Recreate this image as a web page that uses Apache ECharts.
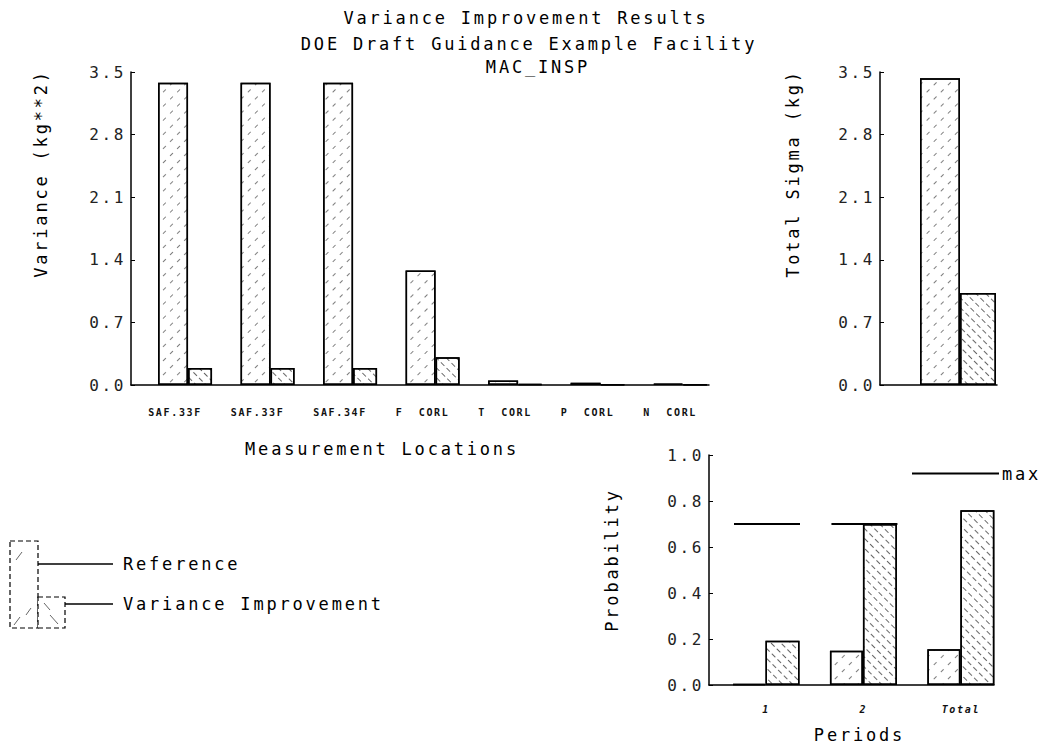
<!DOCTYPE html>
<html>
<head>
<meta charset="utf-8">
<script src="https://cdn.jsdelivr.net/npm/echarts@6/dist/echarts.min.js"></script>
<style>
  html, body { margin: 0; padding: 0; background: #fff; }
  #chart { width: 1041px; height: 745px; }
  #chart text { letter-spacing: 0.165em; white-space: pre; }
</style>
</head>
<body>
<div id="chart"></div>
<script>
// ---------- data ----------
const titleLines = ['Variance Improvement Results', 'DOE Draft Guidance Example Facility', 'MAC_INSP'];

const locations = ['SAF.33F', 'SAF.33F', 'SAF.34F', 'F  CORL', 'T  CORL', 'P  CORL', 'N  CORL'];
const locReference = [3.38, 3.38, 3.38, 1.28, 0.05, 0.025, 0.015];
const locImprovement = [0.19, 0.19, 0.19, 0.31, 0.01, 0.005, 0.005];
const varianceTicks = [0, 0.7, 1.4, 2.1, 2.8, 3.5];

const sigmaReference = [3.43];
const sigmaImprovement = [1.03];

const periods = ['1', '2', 'Total'];
const probReference = [0.005, 0.149, 0.155];
const probImprovement = [0.192, 0.70, 0.76];
const probMax = [0.70, 0.70, null];
const probTicks = [0, 0.2, 0.4, 0.6, 0.8, 1.0];

const seriesNames = ['Reference', 'Variance Improvement'];

// ---------- styles ----------
const FONT = "'DejaVu Sans Mono', 'Liberation Mono', monospace";
const axisLineStyle = { color: '#000', width: 1.5 };
const refDecal = {
  symbol: 'rect', symbolSize: 1, color: 'rgba(0,0,0,0.5)',
  dashArrayX: [[4, 6]], dashArrayY: [1, 9], rotation: -Math.PI / 4
};
const impDecal = {
  symbol: 'rect', symbolSize: 1, color: 'rgba(0,0,0,0.6)',
  dashArrayX: [[5, 3]], dashArrayY: [1, 6], rotation: Math.PI / 4
};
function barStyle(decal) {
  return { color: '#fff', borderColor: '#000', borderWidth: 1.5, decal: decal };
}
const tickLabel = { fontFamily: FONT, fontSize: 16, color: '#222', margin: 5 };
const nameStyle = { fontFamily: FONT, fontSize: 17, color: '#000' };
const titleStyle = { fontFamily: FONT, fontSize: 17, fontWeight: 'normal', color: '#000' };

function yAxisDef(gridIndex, min, max, interval, name, nameGap, padShift) {
  return {
    type: 'value', gridIndex, min, max, interval,
    name, nameLocation: 'middle', nameGap, nameRotate: 90,
    nameTextStyle: Object.assign({ padding: [0, 0, 0, padShift] }, nameStyle),
    axisLine: { show: true, onZero: false, lineStyle: axisLineStyle },
    axisTick: { show: true, inside: true, length: 4, lineStyle: { color: '#000' } },
    splitLine: { show: false },
    axisLabel: Object.assign({ formatter: v => v.toFixed(1) }, tickLabel)
  };
}

const chart = echarts.init(document.getElementById('chart'), null, { renderer: 'svg' });

const option = {
  backgroundColor: '#fff',
  animation: false,
  title: [
    { text: titleLines[0], left: 526, top: 9, textAlign: 'center', padding: 0, textStyle: titleStyle },
    { text: titleLines[1], left: 529, top: 35, textAlign: 'center', padding: 0, textStyle: titleStyle },
    { text: titleLines[2], left: 538, top: 58, textAlign: 'center', padding: 0, textStyle: titleStyle }
  ],
  legend: {
    data: [{ name: 'max', icon: 'rect' }],
    left: 912, top: 465, padding: 0, itemWidth: 87, itemHeight: 2, itemGap: 4,
    selectedMode: false,
    textStyle: { fontFamily: FONT, fontSize: 17, color: '#000', padding: [0, 0, 0, -2] }
  },
  grid: [
    { left: 131, top: 72, width: 578, height: 313 },
    { left: 880, top: 72, width: 117, height: 313 },
    { left: 709, top: 455, width: 285, height: 230 }
  ],
  xAxis: [
    {
      type: 'value', gridIndex: 0, min: -0.655, max: 6.35,
      name: 'Measurement Locations', nameLocation: 'middle', nameGap: 55,
      nameTextStyle: Object.assign({ padding: [0, 76, 0, 0] }, nameStyle),
      axisLine: { show: true, onZero: false, lineStyle: axisLineStyle },
      axisTick: { show: false }, splitLine: { show: false },
      axisLabel: {
        customValues: locations.map((_, i) => i),
        formatter: v => locations[Math.round(v)] || '',
        fontFamily: FONT, fontSize: 10, fontWeight: 'bold', color: '#111',
        margin: 22, padding: [0, 20, 0, 0]
      }
    },
    {
      type: 'value', gridIndex: 1, min: -2, max: 1,
      axisLine: { show: true, onZero: false, lineStyle: axisLineStyle },
      axisTick: { show: false }, splitLine: { show: false }, axisLabel: { show: false }
    },
    {
      type: 'value', gridIndex: 2, min: -0.585, max: 2.34,
      name: 'Periods', nameLocation: 'middle', nameGap: 41,
      nameTextStyle: Object.assign({ padding: [0, 0, 0, 16] }, nameStyle),
      axisLine: { show: true, onZero: false, lineStyle: axisLineStyle },
      axisTick: { show: false }, splitLine: { show: false },
      axisLabel: {
        customValues: periods.map((_, i) => i),
        formatter: v => periods[Math.round(v)] || '',
        fontFamily: FONT, fontSize: 10, fontStyle: 'italic', fontWeight: 'bold', color: '#111',
        margin: 19
      }
    }
  ],
  yAxis: [
    yAxisDef(0, varianceTicks[0], varianceTicks[varianceTicks.length - 1], varianceTicks[1] - varianceTicks[0],
      'Variance (kg**2)', 82, 110),
    yAxisDef(1, varianceTicks[0], varianceTicks[varianceTicks.length - 1], varianceTicks[1] - varianceTicks[0],
      'Total Sigma (kg)', 79, 110),
    yAxisDef(2, probTicks[0], probTicks[probTicks.length - 1], probTicks[1] - probTicks[0],
      'Probability', 89, 20)
  ],
  series: [
    { type: 'bar', name: seriesNames[0], xAxisIndex: 0, yAxisIndex: 0, barWidth: 30, barGap: '0%',
      data: locReference.map((v, i) => [i, v]), itemStyle: barStyle(refDecal) },
    { type: 'bar', name: seriesNames[1], xAxisIndex: 0, yAxisIndex: 0, barWidth: 24, barGap: '0%',
      data: locImprovement.map((v, i) => [i, v]), itemStyle: barStyle(impDecal) },

    { type: 'bar', name: seriesNames[0], xAxisIndex: 1, yAxisIndex: 1, barWidth: 40, barGap: '0%',
      data: sigmaReference.map((v, i) => [i, v]), itemStyle: barStyle(refDecal) },
    { type: 'bar', name: seriesNames[1], xAxisIndex: 1, yAxisIndex: 1, barWidth: 36, barGap: '0%',
      data: sigmaImprovement.map((v, i) => [i, v]), itemStyle: barStyle(impDecal) },

    { type: 'bar', name: seriesNames[0], xAxisIndex: 2, yAxisIndex: 2, barWidth: 33, barGap: '0%',
      data: probReference.map((v, i) => [i, v]), itemStyle: barStyle(refDecal) },
    { type: 'bar', name: seriesNames[1], xAxisIndex: 2, yAxisIndex: 2, barWidth: 34, barGap: '0%',
      data: probImprovement.map((v, i) => [i, v]), itemStyle: barStyle(impDecal) },
    {
      type: 'custom', name: 'max', xAxisIndex: 2, yAxisIndex: 2,
      itemStyle: { color: '#000' },
      data: probMax.map((v, i) => [i, v]).filter(d => d[1] !== null),
      renderItem: function (params, api) {
        const p = api.coord([api.value(0), api.value(1)]);
        return {
          type: 'line',
          shape: { x1: p[0] - 32, y1: p[1], x2: p[0] + 34, y2: p[1] },
          style: { stroke: '#000', lineWidth: 2 }
        };
      }
    }
  ],
  graphic: [
    { type: 'rect', shape: { x: 10, y: 541, width: 28, height: 87 },
      style: { fill: '#fff', stroke: '#000', lineWidth: 1.2, lineDash: [5, 3] } },
    { type: 'rect', shape: { x: 38, y: 597, width: 27, height: 31 },
      style: { fill: '#fff', stroke: '#000', lineWidth: 1.2, lineDash: [5, 3] } },
    { type: 'line', shape: { x1: 16, y1: 560, x2: 22, y2: 552 }, style: { stroke: '#666', lineWidth: 1 } },
    { type: 'line', shape: { x1: 14, y1: 625, x2: 20, y2: 617 }, style: { stroke: '#666', lineWidth: 1 } },
    { type: 'line', shape: { x1: 26, y1: 615, x2: 31, y2: 608 }, style: { stroke: '#666', lineWidth: 1 } },
    { type: 'line', shape: { x1: 44, y1: 603, x2: 50, y2: 610 }, style: { stroke: '#666', lineWidth: 1 } },
    { type: 'line', shape: { x1: 50, y1: 615, x2: 58, y2: 624 }, style: { stroke: '#666', lineWidth: 1 } },
    { type: 'line', shape: { x1: 38, y1: 564, x2: 113, y2: 564 }, style: { stroke: '#000', lineWidth: 1.5 } },
    { type: 'line', shape: { x1: 65, y1: 604, x2: 113, y2: 604 }, style: { stroke: '#000', lineWidth: 1.5 } },
    { type: 'text', x: 123, y: 564,
      style: { text: seriesNames[0], fontFamily: FONT, fontSize: 17, fill: '#000', verticalAlign: 'middle' } },
    { type: 'text', x: 123, y: 604,
      style: { text: seriesNames[1], fontFamily: FONT, fontSize: 17, fill: '#000', verticalAlign: 'middle' } }
  ]
};

chart.setOption(option);
</script>
</body>
</html>
